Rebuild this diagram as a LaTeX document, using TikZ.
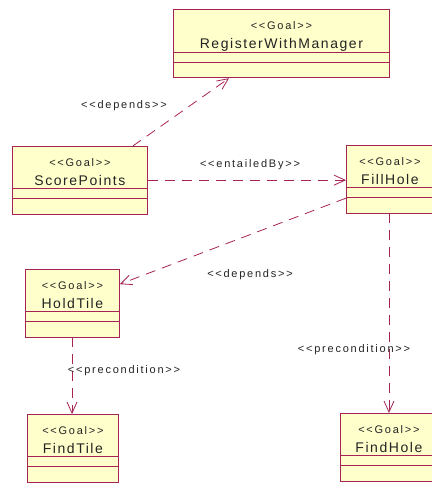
\documentclass[tikz,border=0pt]{standalone}
\usepackage{fontspec}
\usetikzlibrary{shapes.multipart,arrows.meta,positioning}
\newfontfamily\umlfont{Liberation Sans}[LetterSpace=11]
\newfontfamily\tagfont{Liberation Sans}[LetterSpace=16]
\definecolor{goalline}{RGB}{165,35,85}
\definecolor{goalfill}{RGB}{255,255,204}
\definecolor{goaltext}{RGB}{35,35,35}
\tikzstyle{goal}=[draw=goalline,fill=goalfill,rectangle split,
  rectangle split parts=3,inner sep=0pt,anchor=north west,
  text=goaltext,line width=.8pt]
\newcommand{\goalbox}[1]{\rule{0pt}{20pt}{\tagfont\fontsize{11}{12}\selectfont
  <{}<Goal>{}>}\\\rule[-2pt]{0pt}{20pt}{\umlfont\fontsize{14}{16}\selectfont #1}
  \nodepart{two}\rule{0pt}{9pt}\nodepart{three}\rule{0pt}{15pt}}

\begin{document}
\begin{tikzpicture}[x=1pt,y=-1pt,>={Straight Barb[length=11pt,width=10pt]}]
    \tikzstyle{dep}=[->,draw=goalline,line width=.8pt,
    dash pattern=on 10pt off 7pt]
    \tikzstyle{stereo}=[anchor=base,text=goaltext,
    font=\tagfont\fontsize{11}{12}\selectfont]
    \useasboundingbox (0,0) rectangle (432,483);

    \node[goal,minimum width=216pt,align=center] at (173,9) (rwm)
    {\goalbox{RegisterWithManager}};
    \node[goal,minimum width=135pt,align=center] at (12,146) (sp)
    {\goalbox{ScorePoints}};
    \node[goal,minimum width=87pt,align=center] at (346,145) (fh)
    {\goalbox{FillHole}};
    \node[goal,minimum width=94pt,align=center] at (25,269) (ht)
    {\goalbox{HoldTile}};
    \node[goal,minimum width=91pt,align=center] at (27,414) (ft)
    {\goalbox{FindTile}};
    \node[goal,minimum width=97pt,align=center] at (340,413) (fhl)
    {\goalbox{FindHole}};

    % dependencies
    \draw[dep] ([xshift=-15pt]sp.north east) -- ([xshift=56pt]rwm.south west);
    \node[stereo] at (124,108) (dep1) {<{}<depends>{}>};

    \draw[dep] (sp.east) -- (sp.east -| fh.west);
    \node[stereo] at (250,167) (ent) {<{}<entailedBy>{}>};

    \draw[dep] ([yshift=-19pt]fh.west) -- ([yshift=19pt]ht.east);
    \node[stereo] at (250,277) (dep2) {<{}<depends>{}>};

    \draw[dep] (ht.south -| 72,0) -- (ft.north -| 72,0);
    \node[stereo] at (124,373) (pre1) {<{}<precondition>{}>};

    \draw[dep] (fh.south -| 389,0) -- (fhl.north -| 389,0);
    \node[stereo] at (354,352) (pre2) {<{}<precondition>{}>};
\end{tikzpicture}
\end{document}
